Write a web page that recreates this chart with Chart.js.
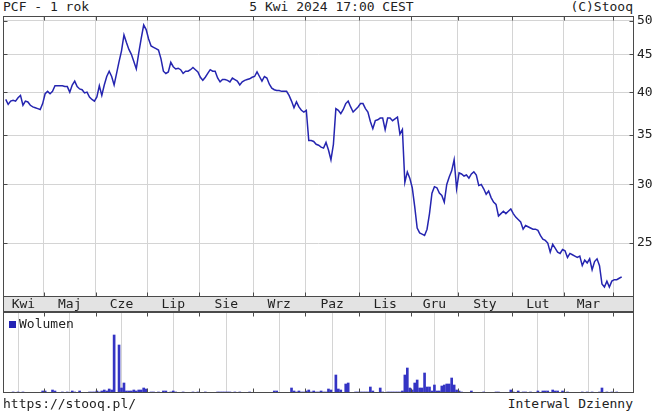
<!DOCTYPE html>
<html>
<head>
<meta charset="utf-8">
<script src="https://cdn.jsdelivr.net/npm/chart.js@4.4.1/dist/chart.umd.min.js"></script>
<style>
  html, body { margin:0; padding:0; background:#fff; }
  body { width:655px; height:413px; position:relative; overflow:hidden;
         font-family:'DejaVu Sans Mono', monospace; font-size:13px; color:#222; }
  .t { position:absolute; line-height:15px; white-space:pre; }
  canvas { position:absolute; left:0; }
</style>
</head>
<body>
<div class="t" style="left:3px; top:-1px;">PCF - 1 rok</div>
<div class="t" style="left:0; width:655px; top:-1px; text-align:center; padding-left:8px; box-sizing:border-box;">5 Kwi 2024 17:00 CEST</div>
<div class="t" style="right:22px; top:-1px;">(C)Stooq</div>
<canvas id="price" width="655" height="312" style="top:0"></canvas>
<canvas id="vol" width="655" height="81" style="top:312px"></canvas>
<div style="position:absolute; left:9px; top:321px; width:7px; height:7px; background:#2323b4;"></div>
<div class="t" style="left:19px; top:316px;">Wolumen</div>
<div class="t" style="left:3px; top:396px;">https://stooq.pl/</div>
<div class="t" style="right:22px; top:396px;">Interwal Dzienny</div>
<script>
// ---- data (trading-day index 0 = 5 Apr 2023 ... 250 = 5 Apr 2024) ----
const monthLabels = ['Kwi','Maj','Cze','Lip','Sie','Wrz','Paz','Lis','Gru','Sty','Lut','Mar'];
const monthBounds = [15.5, 36.5, 57.5, 78.5, 100.5, 121.5, 143.5, 164.5, 183.5, 205.5, 226.5, 246.5];
const priceTicks = [25, 30, 35, 40, 45, 50];
const close = [
  39.1, 38.5, 38.9, 39.0, 38.9, 39.3, 39.6, 38.4, 38.9, 38.8,
  38.4, 38.2, 38.1, 38.0, 37.9, 38.6, 39.8, 40.1, 39.8, 40.1,
  40.8, 40.8, 40.8, 40.8, 40.7, 40.7, 40.0, 40.9, 41.4, 40.7,
  40.4, 40.3, 39.9, 40.0, 39.4, 39.1, 38.9, 39.4, 40.8, 39.6,
  40.9, 42.0, 42.7, 42.0, 40.9, 42.4, 44.0, 45.5, 47.8, 46.7,
  45.7, 45.0, 44.0, 43.0, 45.2, 47.3, 49.3, 48.6, 47.2, 46.2,
  46.0, 45.8, 45.6, 44.4, 42.7, 42.4, 42.6, 43.9, 43.3, 43.0,
  43.1, 42.9, 42.4, 42.7, 42.7, 42.9, 43.2, 42.9, 42.6, 41.9,
  41.5, 41.9, 42.4, 42.9, 42.7, 42.7, 41.8, 41.3, 41.6, 41.6,
  41.5, 41.3, 41.8, 41.6, 41.4, 40.9, 41.3, 41.5, 41.6, 41.7,
  41.9, 42.0, 42.6, 42.0, 41.4, 42.0, 41.8, 41.0, 40.5, 40.3,
  40.2, 40.2, 40.1, 40.1, 40.1, 39.6, 38.9, 38.1, 38.8, 38.2,
  37.8, 37.6, 37.8, 34.4, 34.4, 34.3, 34.0, 33.9, 33.7, 33.6,
  34.2, 33.4, 32.4, 34.0, 38.0, 37.8, 37.4, 37.9, 38.6, 38.9,
  38.2, 37.6, 37.9, 38.2, 38.6, 38.6, 38.0, 37.6, 36.5, 35.7,
  36.6, 36.7, 36.9, 36.9, 35.6, 36.9, 36.9, 36.6, 36.8, 37.0,
  35.1, 35.6, 30.2, 31.2, 30.6, 29.7, 28.0, 26.2, 25.8, 25.7,
  25.6, 26.1, 27.4, 29.2, 29.8, 29.7, 29.2, 29.0, 28.4, 30.0,
  30.7, 31.3, 32.4, 29.6, 31.1, 31.0, 30.8, 30.9, 30.6, 31.0,
  31.2, 30.9, 29.9, 30.0, 29.6, 29.1, 29.4, 28.8, 28.4, 28.2,
  27.2, 27.4, 27.6, 27.4, 27.6, 27.8, 27.4, 27.1, 26.9, 26.7,
  26.1, 26.4, 26.3, 26.2, 26.1, 26.1, 26.0, 25.6, 25.3, 25.2,
  25.0, 24.3, 24.9, 24.6, 24.3, 24.2, 24.5, 24.4, 23.9, 24.2,
  24.1, 24.0, 23.9, 24.0, 23.3, 23.7, 23.5, 23.8, 23.0, 23.6,
  23.8, 23.3, 22.0, 21.8, 22.2, 21.8, 22.2, 22.3, 22.3, 22.4, 22.5
];
// volume (thousand shares), by trading-day index
const volDays = [3,5,7,15,16,19,20,23,25,27,28,30,
  34,35,36,37,38,39,40,41,42,43,44,46,47,48,49,50,51,52,53,54,55,56,57,
  59,60,62,64,65,67,68,69,72,76,78,81,86,87,88,89,90,91,93,95,99,109,110,
  116,117,118,119,120,121,122,123,124,125,126,127,128,129,130,131,132,134,135,136,138,139,
  142,143,144,145,146,147,148,149,152,153,155,156,157,158,159,160,161,162,163,164,165,166,167,168,169,170,171,172,173,174,175,176,177,178,179,180,181,182,183,184,185,
  189,194,199,200,205,206,208,210,211,213,216,218,219,220,222,223,224,226,228,234,236,238,241,242,244,246,248];
const volK = [1,1,1,2,2,3,2,1,1,2,1,2,
  1,1,1,2,1,2,3,2,4,3,58,48,5,10,2,2,2,3,2,3,3,5,4,
  1,1,1,2,2,1,2,1,1,1,1,1,1,1,1,1,1,1,1,1,1,2,2,
  5,2,1,2,1,1,2,3,1,2,1,1,2,1,1,4,3,18,4,3,9,10,
  1,1,1,1,1,1,6,2,5,1,1,1,1,1,1,1,2,18,25,5,3,10,13,5,5,20,6,6,2,8,2,2,7,8,9,9,15,8,3,2,1,
  2,1,1,1,3,1,2,1,1,1,2,2,2,2,3,2,2,2,1,1,1,1,1,5,1,1,1];

// ---- derived ----
const X_MIN = -1.1, X_MAX = 255;
const labelPos = monthLabels.map((m, k) => ((k === 0 ? X_MIN : monthBounds[k-1]) + monthBounds[k]) / 2);
const boundSet = new Set(monthBounds);
const GRID = '#d4d4d4', FRAME = '#4a4a4a';

Chart.defaults.font.family = "'DejaVu Sans Mono', monospace";
Chart.defaults.font.size = 13;
Chart.defaults.color = '#222';
Chart.defaults.animation = false;

const framePlugin = {
  id: 'frame',
  beforeDraw(chart, args, opts) {
    const {ctx, chartArea: a} = chart;
    if (opts.band) {
      ctx.save();
      ctx.fillStyle = '#e3e3e3';
      ctx.fillRect(a.left, a.bottom, a.right - a.left, opts.band);
      ctx.restore();
    }
  },
  afterDraw(chart, args, opts) {
    const {ctx, chartArea: a, scales} = chart;
    ctx.save();
    ctx.strokeStyle = FRAME; ctx.lineWidth = 1;
    const L = Math.round(a.left) + 0.5, R = Math.round(a.right) - 0.5;
    const T = Math.round(a.top) + 0.5, B = Math.round(a.bottom) - 0.5;
    ctx.strokeRect(L, T, R - L, B - T);
    if (opts.band) ctx.strokeRect(L, B, R - L, opts.band);
    ctx.beginPath();
    monthBounds.forEach(v => {
      const x = Math.round(scales.x.getPixelForValue(v)) + 0.5;
      ctx.moveTo(x, T); ctx.lineTo(x, T + 4);
      ctx.moveTo(x, B); ctx.lineTo(x, B - 4);
    });
    if (opts.priceTicks) {
      priceTicks.forEach(p => {
        const y = Math.round(scales.y.getPixelForValue(p)) + 0.5;
        ctx.moveTo(L, y); ctx.lineTo(L + 4, y);
        ctx.moveTo(R, y); ctx.lineTo(R - 4, y);
      });
    }
    ctx.stroke();
    // stronger right axis line
    ctx.beginPath(); ctx.moveTo(R, T); ctx.lineTo(R, B + (opts.band || 0)); ctx.stroke();
    ctx.restore();
  }
};

const xGrid = {
  color: c => (c.tick && boundSet.has(c.tick.value)) ? GRID : 'rgba(0,0,0,0)',
  drawTicks: false
};

new Chart(document.getElementById('price'), {
  type: 'line',
  data: {
    datasets: [{
      data: close.map((v, i) => ({x: i, y: v})),
      borderColor: '#2525b0',
      borderWidth: 1.5,
      pointRadius: 0,
      tension: 0
    }]
  },
  options: {
    responsive: false,
    devicePixelRatio: 1,
    layout: { padding: { left: 3, top: 16, right: 0, bottom: 0 } },
    plugins: { legend: { display: false }, tooltip: { enabled: false }, frame: { band: 15, priceTicks: true } },
    scales: {
      x: {
        type: 'linear', min: X_MIN, max: X_MAX,
        grid: xGrid,
        border: { display: false },
        afterBuildTicks: s => { s.ticks = monthBounds.concat(labelPos).sort((a, b) => a - b).map(v => ({value: v})); },
        afterFit: s => { s.height = 15; },
        ticks: {
          autoSkip: false, maxRotation: 0, minRotation: 0, padding: 0,
          callback: v => { const k = labelPos.indexOf(v); return k >= 0 ? monthLabels[k] : ''; }
        }
      },
      y: {
        type: 'logarithmic', position: 'right', min: 21.13, max: 50.71,
        grid: { color: GRID, drawTicks: false },
        border: { display: false },
        afterBuildTicks: s => { s.ticks = priceTicks.map(v => ({value: v})); },
        afterFit: s => { s.width = 21; },
        ticks: { padding: 3, callback: v => String(v) }
      }
    }
  },
  plugins: [framePlugin]
});

new Chart(document.getElementById('vol'), {
  type: 'bar',
  data: {
    datasets: [{
      data: volDays.map((d, k) => ({x: d, y: volK[k]})),
      backgroundColor: '#3434c4',
      barThickness: 2,
      grouped: false
    }]
  },
  options: {
    responsive: false,
    devicePixelRatio: 1,
    layout: { padding: { left: 3, top: 0, right: 21, bottom: 0 } },
    plugins: { legend: { display: false }, tooltip: { enabled: false }, frame: {} },
    scales: {
      x: {
        type: 'linear', min: X_MIN, max: X_MAX, offset: false,
        grid: xGrid,
        border: { display: false },
        afterBuildTicks: s => { s.ticks = monthBounds.map(v => ({value: v})); },
        afterFit: s => { s.height = 0; },
        ticks: { display: false }
      },
      y: { display: false, min: 0, max: 81 }
    }
  },
  plugins: [framePlugin]
});
</script>
</body>
</html>
